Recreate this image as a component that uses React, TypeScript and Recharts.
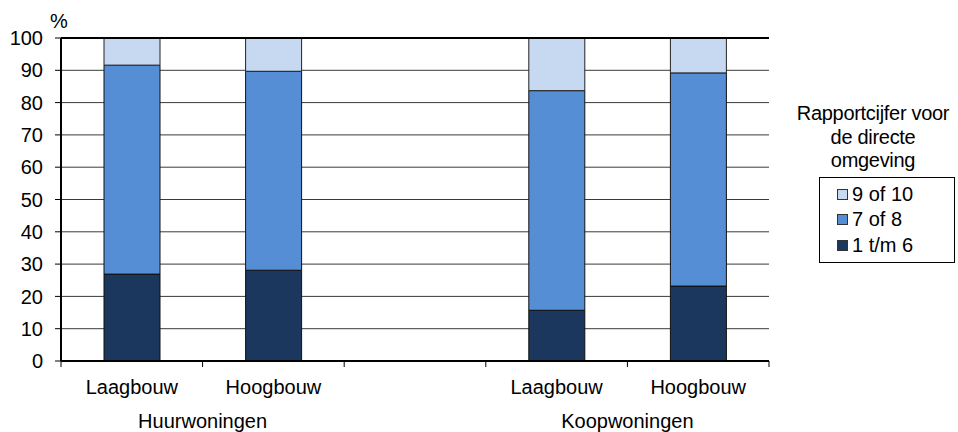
import React from "react";
import { BarChart, Bar, XAxis, YAxis, CartesianGrid, Legend, ReferenceLine } from "recharts";

const categories = ["Laagbouw", "Hoogbouw", "", "Laagbouw", "Hoogbouw"];
const groups = ["Huurwoningen", "Huurwoningen", "", "Koopwoningen", "Koopwoningen"];
const low = [26.9, 28.1, null, 15.7, 23.2];
const mid = [64.7, 61.6, null, 68.0, 66.0];
const high = [8.4, 10.3, null, 16.3, 10.8];
const yTicks = [0, 10, 20, 30, 40, 50, 60, 70, 80, 90, 100];
const seriesNames = ["1 t/m 6", "7 of 8", "9 of 10"];
const legendTitle = ["Rapportcijfer voor", "de directe", "omgeving"];

const COLORS = ["#1B375E", "#558ED5", "#C6D9F1"];
const FONT = "'Liberation Sans', Arial, sans-serif";
const W = 958;
const H = 432;
const M = { top: 38, right: 189, left: 0, bottom: 0 };
const YW = 61;
const PLOT_W = W - M.right - YW;

const data = categories.map((c, i) => ({
  cat: c,
  group: groups[i],
  low: low[i],
  mid: mid[i],
  high: high[i],
  idx: i,
}));

const XTick = (props: any) => {
  const { x, y, payload, index } = props;
  const half = PLOT_W / categories.length / 2;
  const i = index as number;
  const g = groups[i];
  const showGroup = g && (i === 0 || groups[i - 1] !== g);
  const isLast = i === categories.length - 1;
  return (
    <g>
      <line x1={x - half} y1={y} x2={x - half} y2={y + 6} stroke="#000" strokeWidth={1} />
      {isLast && <line x1={x + half} y1={y} x2={x + half} y2={y + 6} stroke="#000" strokeWidth={1} />}
      <text x={x} y={y + 33} textAnchor="middle" fontSize={20} fill="#000" fontFamily={FONT}>
        {payload.value}
      </text>
      {showGroup && (
        <text x={x + half} y={y + 67} textAnchor="middle" fontSize={20} fill="#000" fontFamily={FONT}>
          {g}
        </text>
      )}
    </g>
  );
};

const LegendContent = () => {
  const items = [2, 1, 0];
  return (
    <div style={{ fontFamily: FONT, fontSize: 20, color: "#000" }}>
      {legendTitle.map((t, i) => (
        <div key={i} style={{ textAlign: "center", lineHeight: "23.5px", whiteSpace: "nowrap", letterSpacing: "-0.3px" }}>
          {t}
        </div>
      ))}
      <div
        style={{
          marginTop: 4,
          marginLeft: 29,
          width: 136,
          border: "1px solid #000",
          padding: "4px 0 4px 17px",
          boxSizing: "border-box",
        }}
      >
        {items.map((k) => (
          <div key={k} style={{ display: "flex", alignItems: "center", height: 25.5 }}>
            <span
              style={{
                display: "inline-block",
                width: 9,
                height: 9,
                background: COLORS[k],
                border: "1px solid #333",
                marginRight: 4,
              }}
            />
            <span style={{ whiteSpace: "nowrap" }}>{seriesNames[k]}</span>
          </div>
        ))}
      </div>
    </div>
  );
};

export default function App() {
  return (
    <div style={{ position: "absolute", left: 0, top: 0, width: W, height: H, background: "#fff", fontFamily: FONT }}>
      <BarChart width={W} height={H} data={data} margin={M} barSize={56}>
        <CartesianGrid yAxisId="l" horizontal vertical={false} stroke="#3a3a3a" strokeWidth={1} />
        <XAxis
          dataKey="cat"
          xAxisId={0}
          height={71}
          interval={0}
          tickLine={false}
          tickSize={0}
          tickMargin={0}
          axisLine={{ stroke: "#000", strokeWidth: 2 }}
          tick={<XTick />}
        />
        <YAxis
          yAxisId="l"
          width={YW}
          domain={[0, 100]}
          ticks={yTicks}
          interval={0}
          tickSize={6}
          tickMargin={12}
          tickLine={{ stroke: "#000" }}
          axisLine={{ stroke: "#000", strokeWidth: 2 }}
          tick={{ fontSize: 20, fill: "#000", fontFamily: FONT }}
          label={{ value: "%", position: "insideTopLeft", offset: 0, dx: 50, dy: -24, fontSize: 20, fill: "#000", fontFamily: FONT }}
        />
        <YAxis
          yAxisId="r"
          orientation="right"
          width={0}
          domain={[0, 100]}
          tick={false}
          tickLine={false}
          axisLine={{ stroke: "#000", strokeWidth: 1.5 }}
        />
        <ReferenceLine yAxisId="l" y={100} stroke="#000" strokeWidth={2} />
        <Bar dataKey="low" name={seriesNames[0]} stackId="s" yAxisId="l" fill={COLORS[0]} stroke="#111" strokeWidth={1} isAnimationActive={false} />
        <Bar dataKey="mid" name={seriesNames[1]} stackId="s" yAxisId="l" fill={COLORS[1]} stroke="#111" strokeWidth={1} isAnimationActive={false} />
        <Bar dataKey="high" name={seriesNames[2]} stackId="s" yAxisId="l" fill={COLORS[2]} stroke="#222" strokeWidth={1} isAnimationActive={false} />
        <Legend
          layout="vertical"
          align="center"
          verticalAlign="middle"
          content={<LegendContent />}
          wrapperStyle={{ position: "absolute", left: 790, top: 102, width: 166 }}
        />
      </BarChart>
    </div>
  );
}
